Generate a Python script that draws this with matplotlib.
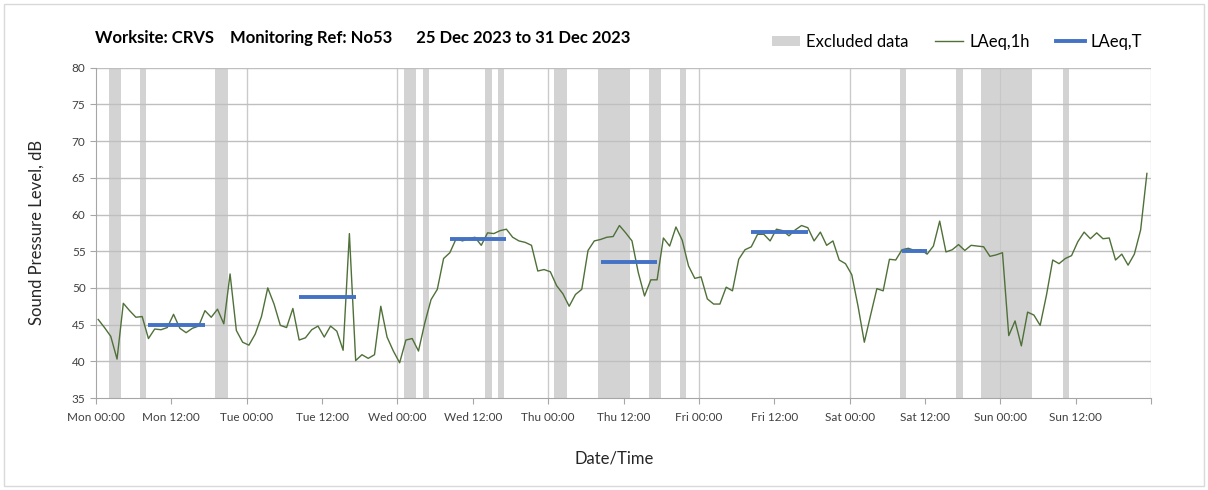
import numpy as np
import matplotlib
matplotlib.use('Agg')
import matplotlib.pyplot as plt
from matplotlib.patches import Patch, Rectangle
from matplotlib.lines import Line2D

plt.rcParams['font.family'] = ['Lato', 'DejaVu Sans']

# Hourly LAeq,1h values, Mon 00:00 .. Sun 23:00
laeq_1h = [
    45.7, 44.6, 43.4, 40.3, 47.9, 46.9, 46.0, 46.1, 43.1, 44.4, 44.3, 44.6,
    46.4, 44.5, 43.9, 44.5, 44.8, 46.9, 46.0, 47.1, 45.1, 51.9, 44.2, 42.6,
    42.2, 43.7, 46.1, 50.0, 47.8, 44.9, 44.6, 47.2, 42.9, 43.2, 44.3, 44.8,
    43.3, 44.8, 44.1, 41.5, 57.4, 40.1, 40.9, 40.4, 40.9, 47.5, 43.3, 41.4,
    39.8, 42.9, 43.1, 41.4, 45.2, 48.4, 49.8, 54.0, 54.8, 56.7, 56.4, 56.7,
    56.9, 55.8, 57.5, 57.4, 57.8, 58.0, 56.9, 56.4, 56.2, 55.8, 52.3, 52.5,
    52.2, 50.3, 49.2, 47.5, 49.1, 49.8, 55.1, 56.4, 56.6, 56.9, 57.0, 58.5,
    57.5, 56.4, 52.1, 48.9, 51.1, 51.1, 56.8, 55.7, 58.3, 56.5, 53.0, 51.3,
    51.5, 48.5, 47.8, 47.8, 50.1, 49.6, 53.9, 55.2, 55.6, 57.3, 57.3, 56.4,
    58.0, 57.8, 57.1, 57.9, 58.5, 58.2, 56.4, 57.6, 55.8, 56.4, 53.8, 53.3,
    51.8, 47.5, 42.6, 46.3, 49.9, 49.6, 53.9, 53.8, 55.2, 55.4, 55.1, 55.2,
    54.6, 55.7, 59.1, 54.9, 55.2, 55.9, 55.1, 55.8, 55.7, 55.6, 54.3, 54.5,
    54.8, 43.5, 45.5, 42.1, 46.7, 46.3, 44.9, 49.0, 53.8, 53.3, 54.0, 54.4,
    56.3, 57.6, 56.7, 57.5, 56.7, 56.8, 53.8, 54.6, 53.1, 54.6, 57.9, 65.6,
]

# LAeq,T periods (hour index from Mon 00:00)
laeqT_start = [8, 32, 56, 80, 104, 128]
laeqT_end = [17, 41, 65, 89, 113, 132]
laeqT_value = [45.0, 48.8, 56.6, 53.5, 57.6, 55.0]

# Excluded data periods (hours from Mon 00:00)
excl_start = [2, 7, 19, 49, 52, 62, 64, 73, 80, 88, 93, 128, 137, 141, 154]
excl_end = [4, 8, 21, 51, 53, 63, 65, 75, 85, 90, 94, 129, 138, 149, 155]

days = ['Mon', 'Tue', 'Wed', 'Thu', 'Fri', 'Sat', 'Sun']
tick_labels = [f'{d} {t}' for d in days for t in ('00:00', '12:00')]

# time stamps sit a little after the hour in the source chart
t = np.arange(len(laeq_1h)) + 0.35

fig = plt.figure(figsize=(12.08, 4.9), dpi=100)
fig.patch.set_facecolor('white')
fig.patches.append(Rectangle((4 / 1208, 4 / 490), 1200 / 1208, 482 / 490,
                             transform=fig.transFigure, fill=False,
                             edgecolor='#d9d9d9', linewidth=1))

ax = fig.add_axes([96 / 1208, 92 / 490, 1055 / 1208, 330.3 / 490])
ax.set_xlim(0, 168)
ax.set_ylim(35, 80)

for s, e in zip(excl_start, excl_end):
    ax.axvspan(s, e, color='#d3d3d3', linewidth=0, zorder=1)

# gridlines
for y in range(40, 81, 5):
    ax.axhline(y, color='#bfbfbf', linewidth=1, zorder=1.5)
for x in range(24, 169, 24):
    ax.axvline(x, color='#d9d9d9', linewidth=1, zorder=0.5)
for x in range(24, 168, 24):
    ax.plot([x, x], [35, 80], color='#bdbdbd', linewidth=0.8, alpha=0.5, zorder=1.2)

ax.plot(t, laeq_1h, color='#4f7038', linewidth=1.0, zorder=3)
for s, e, v in zip(laeqT_start, laeqT_end, laeqT_value):
    ax.plot([s + 0.35, e + 0.35], [v, v], color='#4472c4', linewidth=2.8,
            solid_capstyle='butt', zorder=4)

ax.set_xticks(range(0, 169, 12))
ax.set_xticklabels(tick_labels + [''])
ax.set_yticks(range(35, 81, 5))
ax.tick_params(axis='both', colors='#a6a6a6', labelcolor='#404040',
               labelsize=8.5, length=4, width=0.8, direction='out')
ax.tick_params(axis='x', pad=6)
for side in ['top', 'right']:
    ax.spines[side].set_visible(False)
for side in ['left', 'bottom']:
    ax.spines[side].set_color('#a6a6a6')
    ax.spines[side].set_linewidth(0.8)

ax.set_ylabel('Sound Pressure Level, dB', fontsize=12, color='#262626')
ax.yaxis.set_label_coords(-51 / 1055, 0.5)
ax.set_xlabel('Date/Time', fontsize=12, color='#262626')
ax.xaxis.set_label_coords(0.491, -52 / 330.3)

fig.text(95 / 1208, 1 - 38 / 490,
         'Worksite: CRVS    Monitoring Ref: No53      25 Dec 2023 to 31 Dec 2023',
         fontsize=12, fontweight='bold', color='#000000', va='center', ha='left')

handles = [Patch(facecolor='#d3d3d3', edgecolor='none', label='Excluded data'),
           Line2D([0], [0], color='#4f7038', linewidth=1.0, label='LAeq,1h'),
           Line2D([0], [0], color='#4472c4', linewidth=2.8, label='LAeq,T')]
fig.legend(handles=handles, loc='center right', ncol=3, frameon=False,
           bbox_to_anchor=(1142 / 1208, 1 - 42 / 490), fontsize=12,
           handlelength=1.7, handleheight=0.6, handletextpad=0.35,
           columnspacing=1.6, borderpad=0, borderaxespad=0)

fig.savefig('out.png', dpi=100, facecolor='white')
